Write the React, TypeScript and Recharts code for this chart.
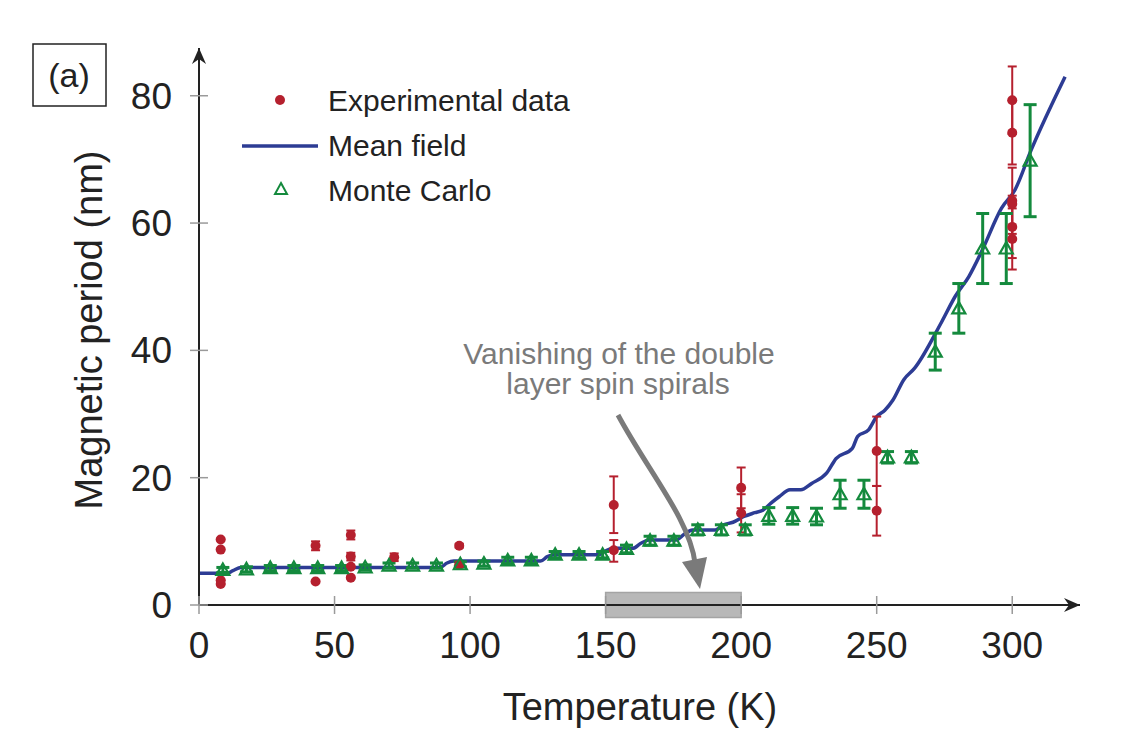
import React from "react";
import {
  ComposedChart,
  Line,
  Scatter,
  XAxis,
  YAxis,
  ErrorBar,
  ReferenceArea,
  ReferenceDot,
} from "recharts";

const FONT = '"Liberation Sans", Arial, Helvetica, sans-serif';
const RED = "#b5202e";
const BLUE = "#2d3c94";
const GREEN = "#148a3d";
const GREY = "#7a7a7a";

const xTicks = [0, 50, 100, 150, 200, 250, 300];
const yTicks = [0, 20, 40, 60, 80];

// experimental points, err = [below, above]
const expData = [
  { T: 8, v: 10.3, err: [0, 0] },
  { T: 8, v: 8.7, err: [0, 0] },
  { T: 8, v: 3.9, err: [0, 0] },
  { T: 8, v: 3.3, err: [0, 0] },
  { T: 43, v: 9.3, err: [0.7, 0.7] },
  { T: 43, v: 3.7, err: [0, 0] },
  { T: 56, v: 11.0, err: [0.7, 0.7] },
  { T: 56, v: 7.6, err: [0.6, 0.6] },
  { T: 56, v: 6.0, err: [0, 0] },
  { T: 56, v: 4.3, err: [0, 0] },
  { T: 72, v: 7.5, err: [0.6, 0.6] },
  { T: 96, v: 9.3, err: [0.3, 0.3] },
  { T: 96, v: 6.3, err: [0, 0] },
  { T: 153, v: 15.7, err: [4.4, 4.5] },
  { T: 153, v: 8.6, err: [1.8, 1.6] },
  { T: 200, v: 18.4, err: [3.2, 3.2] },
  { T: 200, v: 14.4, err: [3.0, 3.0] },
  { T: 250, v: 24.2, err: [5.5, 5.4] },
  { T: 250, v: 14.8, err: [3.9, 3.9] },
  { T: 300, v: 79.3, err: [5.3, 5.3] },
  { T: 300, v: 74.2, err: [5.0, 5.0] },
  { T: 300, v: 63.5, err: [5.2, 5.2] },
  { T: 300, v: 63.0, err: [0, 0] },
  { T: 300, v: 59.4, err: [4.9, 4.9] },
  { T: 300, v: 57.5, err: [4.8, 4.8] },
];

const meanField = [
  { T: 0, v: 5.0 }, { T: 10.5, v: 5.0 }, { T: 12.5, v: 5.4 }, { T: 15.5, v: 5.9 },
  { T: 89, v: 5.9 }, { T: 91.5, v: 6.6 }, { T: 94, v: 6.9 }, { T: 126, v: 6.9 },
  { T: 128.5, v: 7.6 }, { T: 131, v: 7.9 }, { T: 147.5, v: 7.9 }, { T: 150, v: 8.5 },
  { T: 153, v: 8.9 }, { T: 160, v: 8.9 }, { T: 163, v: 9.7 }, { T: 166, v: 10.2 },
  { T: 176, v: 10.2 }, { T: 179, v: 11.1 }, { T: 182, v: 11.8 }, { T: 190.5, v: 11.8 },
  { T: 193.5, v: 12.6 }, { T: 197, v: 13.0 }, { T: 201, v: 13.9 }, { T: 205, v: 14.5 },
  { T: 208, v: 14.9 }, { T: 211, v: 16.0 }, { T: 214, v: 17.0 }, { T: 218, v: 18.1 },
  { T: 222, v: 18.1 }, { T: 226, v: 19.1 }, { T: 231.5, v: 20.7 }, { T: 235, v: 23.0 },
  { T: 241, v: 24.6 }, { T: 243, v: 26.5 }, { T: 247, v: 27.5 }, { T: 250, v: 29.6 },
  { T: 253, v: 30.6 }, { T: 256, v: 32.2 }, { T: 260, v: 35.4 }, { T: 264, v: 37.2 },
  { T: 274, v: 44.5 }, { T: 279, v: 48.5 }, { T: 284, v: 51.6 }, { T: 289, v: 55.8 },
  { T: 296, v: 62.3 }, { T: 301, v: 65.2 }, { T: 307, v: 71.5 }, { T: 319.5, v: 83.0 },
];

const monteCarlo = [
  { T: 8.8, v: 5.5, err: 0.4 }, { T: 17.5, v: 5.6, err: 0.4 },
  { T: 26.3, v: 5.8, err: 0.4 }, { T: 35.0, v: 5.8, err: 0.4 },
  { T: 43.8, v: 5.8, err: 0.4 }, { T: 52.6, v: 5.8, err: 0.4 },
  { T: 61.3, v: 5.9, err: 0.4 }, { T: 70.1, v: 6.2, err: 0.4 },
  { T: 78.8, v: 6.2, err: 0.4 }, { T: 87.6, v: 6.2, err: 0.4 },
  { T: 96.4, v: 6.4, err: 0.4 }, { T: 105.1, v: 6.5, err: 0.4 },
  { T: 113.9, v: 7.0, err: 0.5 }, { T: 122.6, v: 7.0, err: 0.5 },
  { T: 131.4, v: 7.9, err: 0.5 }, { T: 140.2, v: 7.9, err: 0.5 },
  { T: 148.9, v: 7.9, err: 0.5 }, { T: 157.7, v: 8.8, err: 0.6 },
  { T: 166.4, v: 10.1, err: 0.7 }, { T: 175.2, v: 10.1, err: 0.7 },
  { T: 184.0, v: 11.8, err: 0.8 }, { T: 192.7, v: 11.8, err: 0.8 },
  { T: 201.5, v: 11.8, err: 0.8 }, { T: 210.2, v: 14.0, err: 1.3 },
  { T: 219.0, v: 14.0, err: 1.3 }, { T: 227.8, v: 13.9, err: 1.3 },
  { T: 236.5, v: 17.4, err: 2.2 }, { T: 245.3, v: 17.4, err: 2.2 },
  { T: 254.0, v: 23.2, err: 0.9 }, { T: 262.8, v: 23.2, err: 0.9 },
  { T: 271.6, v: 39.8, err: 2.9 }, { T: 280.3, v: 46.6, err: 3.9 },
  { T: 289.1, v: 56.0, err: 5.5 }, { T: 297.8, v: 56.0, err: 5.5 },
  { T: 306.6, v: 69.8, err: 8.8 },
];

const XTick = (props: any) => {
  const { x, y, payload } = props;
  return (
    <g>
      <line x1={x} x2={x} y1={y - 9} y2={y + 9} stroke="#9a9a9a" strokeWidth={1.5} />
      <text x={x} y={y + 53} textAnchor="middle" fontSize={37} fill="#222" fontFamily={FONT}>
        {payload.value}
      </text>
    </g>
  );
};

const YTick = (props: any) => {
  const { x, y, payload } = props;
  return (
    <g>
      <line x1={x - 9} x2={x + 9} y1={y} y2={y} stroke="#9a9a9a" strokeWidth={1.5} />
      <text x={x - 27} y={y + 13} textAnchor="end" fontSize={37} fill="#222" fontFamily={FONT}>
        {payload.value}
      </text>
    </g>
  );
};

const Dot = (props: any) => <circle cx={props.cx} cy={props.cy} r={5} fill={RED} />;

const Tri = (props: any) => {
  const { cx, cy } = props;
  return (
    <path
      d={`M${cx},${cy - 6.5} L${cx + 6.5},${cy + 5} L${cx - 6.5},${cy + 5} Z`}
      fill="none"
      stroke={GREEN}
      strokeWidth={2.2}
    />
  );
};

const ArrowRight = (props: any) => {
  const { cx, cy } = props;
  return <path d={`M${cx},${cy} L${cx - 16},${cy - 7} L${cx - 11},${cy} L${cx - 16},${cy + 7} Z`} fill="#222" />;
};

const ArrowUp = (props: any) => {
  const { cx, cy } = props;
  return <path d={`M${cx},${cy} L${cx - 7},${cy + 16} L${cx},${cy + 11} L${cx + 7},${cy + 16} Z`} fill="#222" />;
};

export default function App() {
  return (
    <div style={{ position: "absolute", left: 0, top: 0, width: 1146, height: 748, background: "#fff" }}>
      <ComposedChart
        width={1146}
        height={748}
        margin={{ top: 48, right: 66, bottom: 83, left: 99 }}
        style={{ fontFamily: FONT }}
      >
        <XAxis
          dataKey="T"
          type="number"
          domain={[0, 325]}
          allowDataOverflow
          ticks={xTicks}
          tick={<XTick />}
          tickSize={0}
          tickMargin={0}
          tickLine={false}
          height={60}
          axisLine={{ stroke: "#222", strokeWidth: 2 }}
        />
        <YAxis
          dataKey="v"
          type="number"
          domain={[0, 87.5]}
          allowDataOverflow
          ticks={yTicks}
          tick={<YTick />}
          tickSize={0}
          tickMargin={0}
          tickLine={false}
          width={100}
          axisLine={{ stroke: "#222", strokeWidth: 2 }}
        />
        <ReferenceArea
          x1={150}
          x2={200}
          y1={-1.95}
          y2={1.95}
          ifOverflow="visible"
          fill="#b0b0b0"
          fillOpacity={0.9}
          stroke="#a4a4a4"
          strokeWidth={1.5}
        />
        <ReferenceDot x={325} y={0} ifOverflow="visible" shape={<ArrowRight />} />
        <ReferenceDot x={0} y={87.5} ifOverflow="visible" shape={<ArrowUp />} />
        <Line
          data={meanField}
          dataKey="v"
          type="monotone"
          stroke={BLUE}
          strokeWidth={3.5}
          dot={false}
          isAnimationActive={false}
        />
        <Scatter data={expData} dataKey="v" shape={<Dot />} isAnimationActive={false}>
          <ErrorBar dataKey="err" direction="y" width={4.5} stroke={RED} strokeWidth={2} />
        </Scatter>
        <Scatter data={monteCarlo} dataKey="v" shape={<Tri />} isAnimationActive={false}>
          <ErrorBar dataKey="err" direction="y" width={6.5} stroke={GREEN} strokeWidth={3} />
        </Scatter>
      </ComposedChart>
      <svg
        width={1146}
        height={748}
        style={{ position: "absolute", left: 0, top: 0, pointerEvents: "none" }}
        fontFamily={FONT}
      >
        <rect x={33} y={44} width={73} height={62} fill="none" stroke="#222" strokeWidth={1.5} />
        <text x={69} y={87} textAnchor="middle" fontSize={34} fill="#222">(a)</text>

        <circle cx={280} cy={100} r={5} fill={RED} />
        <text x={328} y={111} fontSize={30} fill="#222">Experimental data</text>
        <line x1={242} x2={318} y1={146} y2={146} stroke={BLUE} strokeWidth={3.5} />
        <text x={328} y={156} fontSize={30} fill="#222">Mean field</text>
        <path d="M281,183 L287,194 L275,194 Z" fill="none" stroke={GREEN} strokeWidth={2} />
        <text x={328} y={201} fontSize={30} fill="#222">Monte Carlo</text>

        <text x={619} y={364} textAnchor="middle" fontSize={30} fill={GREY}>
          Vanishing of the double
        </text>
        <text x={618} y={394} textAnchor="middle" fontSize={30} fill={GREY}>
          layer spin spirals
        </text>
        <path d="M618,415 C648,471 690,520 695,563" fill="none" stroke={GREY} strokeWidth={5} />
        <path d="M682,562 L707,557 L700,589 Z" fill={GREY} />

        <text x={640} y={720} textAnchor="middle" fontSize={38} fill="#222">
          Temperature (K)
        </text>
        <text
          x={102}
          y={330}
          textAnchor="middle"
          fontSize={38}
          fill="#222"
          transform="rotate(-90, 102, 330)"
        >
          Magnetic period (nm)
        </text>
      </svg>
    </div>
  );
}
